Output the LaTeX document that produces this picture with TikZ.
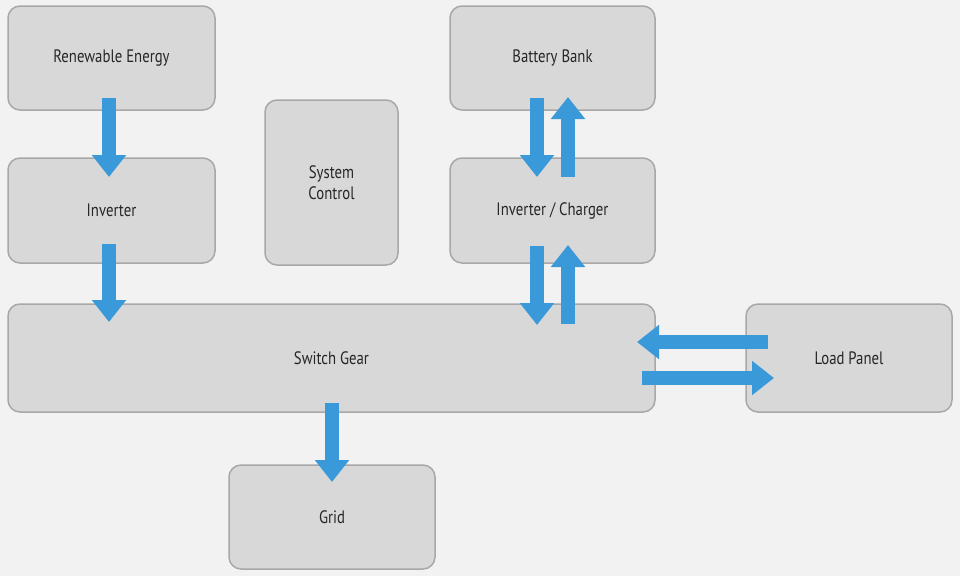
\documentclass[tikz,border=0pt]{standalone}
\usepackage{fontspec}
\setmainfont{PT Sans}[FakeStretch=0.82]
\usetikzlibrary{arrows.meta}
\definecolor{bg}{HTML}{F2F2F2}
\definecolor{boxf}{HTML}{D8D8D8}
\definecolor{boxd}{HTML}{A8A8A8}
\definecolor{arr}{HTML}{3A9AD9}
\begin{document}
\begin{tikzpicture}[x=1pt,y=-1pt,
  box/.style={draw=boxd,fill=boxf,line width=1.5pt,rounded corners=12pt,inner sep=0pt,font=\fontsize{18}{21}\selectfont,align=center,text=black!85},
  ba/.style={draw=arr,line width=14pt,-{Triangle[width=33pt,length=22pt]}}]
\fill[bg] (0,0) rectangle (960,576);
\useasboundingbox (0,0) rectangle (960,576);
\node[box,minimum width=207pt,minimum height=104pt] (re) at (111.5,58) {Renewable Energy};
\node[box,minimum width=207pt,minimum height=105pt] (inv) at (111.5,210.5) {Inverter};
\node[box,minimum width=133pt,minimum height=165pt] (sc) at (331.5,182.5) {System\\Control};
\node[box,minimum width=205pt,minimum height=104pt] (bb) at (552.5,58) {Battery Bank};
\node[box,minimum width=205pt,minimum height=105pt] (ic) at (552.5,210.5) {Inverter / Charger};
\node[box,minimum width=647pt,minimum height=108pt] (sg) at (331.5,358) {Switch Gear};
\node[box,minimum width=206pt,minimum height=108pt] (lp) at (849,358) {Load Panel};
\node[box,minimum width=206pt,minimum height=104pt] (gr) at (332,517) {Grid};
\coordinate (a1s) at (109,98); \coordinate (a1e) at (109,177);
\coordinate (a2s) at (109,244); \coordinate (a2e) at (109,322);
\coordinate (a3s) at (537,98); \coordinate (a3e) at (537,177);
\coordinate (a4s) at (568,177); \coordinate (a4e) at (568,97);
\coordinate (a5s) at (537,246); \coordinate (a5e) at (537,325);
\coordinate (a6s) at (568,324); \coordinate (a6e) at (568,245);
\coordinate (a7s) at (768,342); \coordinate (a7e) at (637,342);
\coordinate (a8s) at (642,378); \coordinate (a8e) at (774,378);
\coordinate (a9s) at (332,403); \coordinate (a9e) at (332,482);
\foreach \i in {1,...,9} \draw[ba] (a\i s) -- (a\i e);
\end{tikzpicture}
\end{document}
